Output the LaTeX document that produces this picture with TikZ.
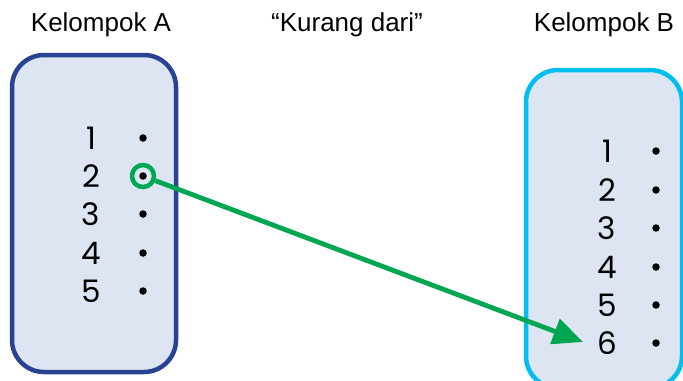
\documentclass[tikz,border=0pt]{standalone}
\usepackage{fontspec}
\setmainfont{Liberation Sans}
\newfontfamily\digitfont{Poppins}
\usetikzlibrary{arrows.meta}
\definecolor{boxfill}{RGB}{220,229,241}
\definecolor{navy}{RGB}{40,66,148}
\definecolor{cyanb}{RGB}{0,190,240}
\definecolor{greenc}{RGB}{0,166,81}
\tikzset{
  hdr/.style={font=\fontsize{26bp}{30bp}\selectfont, inner sep=0pt},
  num/.style={font=\digitfont\fontsize{31bp}{33bp}\selectfont, inner sep=0pt},
  pt/.style={circle, fill=black, inner sep=0pt, minimum size=7.5bp},
}
\begin{document}
\begin{tikzpicture}[x=1bp,y=-1bp]
\useasboundingbox (0,0) rectangle (683,380);
\clip (0,0) rectangle (683,380);
\fill[white] (0,0) rectangle (683,380);
% headers
\node[hdr] (hA) at (101,25) {Kelompok A};
\node[hdr] (hK) at (347,25) {“Kurang dari”};
\node[hdr] (hB) at (604,25) {Kelompok B};
% boxes
\draw[navy, line width=4.5bp, fill=boxfill, rounded corners=32bp] (12,55) rectangle (176,372);
\draw[cyanb, line width=4.5bp, fill=boxfill, rounded corners=32bp] (526,70) rectangle (682,388);
% group A
\foreach \i/\y in {1/138,2/176,3/214,4/253,5/291}{
  \node[num] (na\i) at (91,\y) {\i};
  \node[pt] (da\i) at (143,\y) {};
}
% group B
\foreach \i/\y in {1/151,2/190,3/228,4/267,5/305,6/343}{
  \node[num] (nb\i) at (607,\y) {\i};
  \node[pt] (db\i) at (656,\y) {};
}
% highlight and arrow
\node[circle, draw=greenc, line width=4.5bp, minimum size=22bp, inner sep=0pt] (ring) at (da2) {};
\coordinate (tip) at (583,342);
\draw[greenc, line width=4.8bp, -{Triangle[length=30bp,width=26bp]}] (ring) -- (tip);
\end{tikzpicture}
\end{document}
